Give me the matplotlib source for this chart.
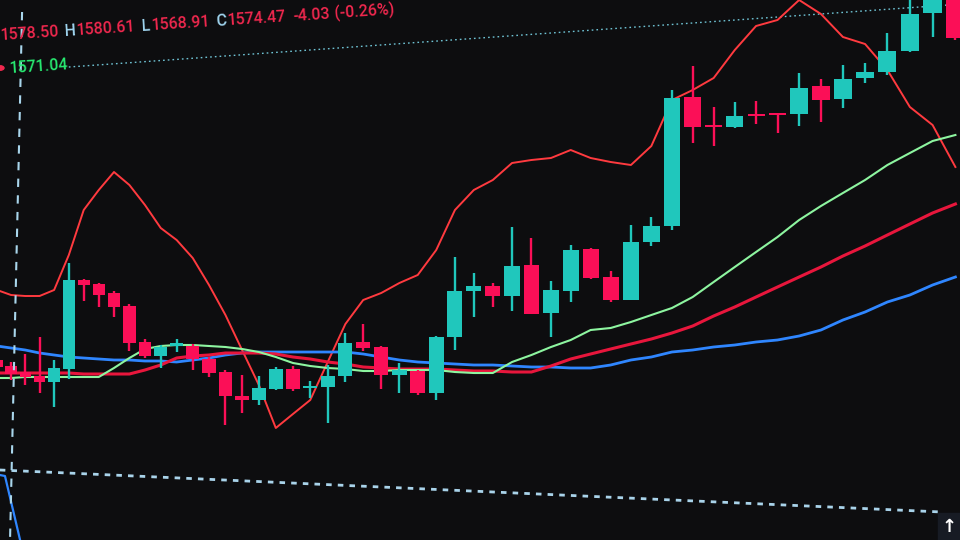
import numpy as np
import matplotlib
matplotlib.use("Agg")
import matplotlib.pyplot as plt
from matplotlib.patches import Rectangle

# ---- candle data (one entry per bar, index 0..52) ----
opens = [1564.0, 1563.4, 1562.8, 1562.4, 1561.8, 1563.1, 1572.0, 1571.6, 1570.7, 1569.4,
         1565.8, 1564.4, 1565.4, 1565.4, 1564.1, 1562.8, 1560.4, 1560.0, 1561.1, 1563.1,
         1561.2, 1561.3, 1562.4, 1565.8, 1565.3, 1562.5, 1562.9, 1560.7, 1566.3, 1570.9,
         1571.4, 1570.4, 1573.5, 1568.7, 1570.9, 1575.1, 1572.3, 1570.0, 1575.8, 1577.4,
         1590.3, 1587.5, 1587.3, 1588.6, 1588.7, 1588.6, 1591.4, 1590.1, 1592.2, 1592.8,
         1594.9, 1598.7, 1601.0]
highs = [1564.5, 1563.8, 1564.6, 1566.3, 1564.0, 1573.7, 1572.1, 1571.7, 1570.9, 1569.6,
         1566.1, 1565.5, 1566.1, 1565.6, 1564.3, 1563.0, 1562.5, 1562.4, 1563.3, 1563.4,
         1561.9, 1563.5, 1566.7, 1567.6, 1565.4, 1563.7, 1563.0, 1566.4, 1574.3, 1572.7,
         1571.7, 1577.3, 1576.2, 1571.9, 1575.5, 1575.2, 1572.9, 1577.5, 1578.3, 1591.0,
         1593.4, 1589.3, 1589.8, 1589.9, 1588.7, 1592.7, 1592.1, 1593.5, 1593.7, 1596.7,
         1600.5, 1602.0, 1602.0]
lows = [1562.8, 1562.0, 1561.5, 1560.7, 1559.3, 1562.1, 1569.9, 1569.3, 1568.3, 1564.9,
        1564.2, 1563.2, 1564.8, 1563.0, 1562.3, 1557.5, 1558.7, 1559.5, 1561.0, 1560.9,
        1560.2, 1557.7, 1561.8, 1564.9, 1561.1, 1560.7, 1560.5, 1560.0, 1565.0, 1568.3,
        1569.3, 1568.9, 1568.6, 1566.3, 1569.8, 1572.1, 1569.8, 1570.0, 1575.4, 1577.0,
        1585.7, 1585.4, 1587.2, 1587.6, 1586.7, 1587.4, 1587.8, 1589.2, 1591.7, 1592.5,
        1594.8, 1596.3, 1596.0]
closes = [1563.3, 1562.6, 1562.3, 1561.8, 1563.2, 1572.0, 1571.5, 1570.5, 1569.3, 1565.7,
          1564.4, 1565.3, 1565.7, 1564.1, 1562.7, 1560.4, 1560.0, 1561.2, 1563.1, 1561.1,
          1561.4, 1562.4, 1565.7, 1565.2, 1562.5, 1563.0, 1560.7, 1566.3, 1570.9, 1571.4,
          1570.4, 1573.4, 1568.6, 1571.0, 1575.0, 1572.2, 1570.0, 1575.8, 1577.4, 1590.2,
          1587.3, 1587.3, 1588.4, 1588.4, 1588.5, 1591.2, 1590.0, 1592.1, 1592.8, 1594.9,
          1598.6, 1601.0, 1596.2]

# ---- indicator lines ----
band_upper = [1571.0, 1570.5, 1570.4, 1570.4, 1571.0, 1574.5, 1579.0, 1581.0, 1582.8, 1581.5,
              1579.5, 1577.2, 1576.0, 1574.2, 1571.5, 1568.5, 1565.0, 1561.5, 1557.2, 1558.6,
              1560.0, 1563.8, 1567.6, 1570.0, 1570.7, 1571.7, 1572.5, 1575.0, 1579.0, 1581.0,
              1582.0, 1583.7, 1584.0, 1584.2, 1585.0, 1584.2, 1583.8, 1583.5, 1585.4, 1590.0,
              1591.0, 1592.2, 1595.0, 1597.4, 1598.0, 1600.0, 1598.6, 1596.3, 1595.6, 1593.0,
              1589.3, 1587.5, 1583.3]
ma_blue = [1565.4, 1565.2, 1565.0, 1564.7, 1564.5, 1564.3, 1564.2, 1564.1, 1564.0, 1564.0,
           1563.9, 1563.9, 1563.8, 1564.0, 1564.2, 1564.5, 1564.7, 1564.8, 1564.8, 1564.8,
           1564.8, 1564.8, 1564.8, 1564.6, 1564.3, 1564.0, 1563.8, 1563.7, 1563.6, 1563.5,
           1563.5, 1563.4, 1563.3, 1563.3, 1563.2, 1563.2, 1563.5, 1564.0, 1564.3, 1564.8,
           1565.0, 1565.3, 1565.5, 1565.8, 1566.0, 1566.4, 1567.0, 1568.0, 1568.8, 1569.8,
           1570.5, 1571.5, 1572.3]
ma_green = [1562.2, 1562.2, 1562.3, 1562.3, 1562.3, 1562.3, 1562.3, 1562.3, 1563.2, 1564.2,
            1565.1, 1565.4, 1565.5, 1565.5, 1565.4, 1565.3, 1565.1, 1564.8, 1564.3, 1563.7,
            1563.4, 1563.2, 1563.1, 1562.9, 1562.9, 1563.0, 1563.0, 1563.0, 1562.8, 1562.7,
            1562.7, 1563.8, 1564.5, 1565.3, 1566.0, 1567.0, 1567.2, 1567.8, 1568.5, 1569.2,
            1570.3, 1571.8, 1573.3, 1574.8, 1576.3, 1578.0, 1579.4, 1580.7, 1582.0, 1583.5,
            1584.7, 1585.9, 1586.5]
ma_red = [1562.7, 1562.7, 1562.7, 1562.7, 1562.7, 1562.7, 1562.6, 1562.6, 1562.6, 1562.6,
          1563.0, 1563.5, 1564.2, 1564.4, 1564.5, 1564.7, 1564.7, 1564.7, 1564.6, 1564.3,
          1564.1, 1563.8, 1563.6, 1563.3, 1563.2, 1563.1, 1563.1, 1563.1, 1563.0, 1562.9,
          1562.9, 1562.8, 1562.8, 1563.4, 1564.1, 1564.6, 1565.1, 1565.6, 1566.1, 1566.7,
          1567.4, 1568.4, 1569.3, 1570.3, 1571.3, 1572.3, 1573.3, 1574.4, 1575.4, 1576.5,
          1577.6, 1578.7, 1579.6]

# reference lines (screen is photographed at an angle, so they tilt)
last_price_x = [5.0, 52.3]
last_price_y = [1593.3, 1599.6]
lower_dash_x = [0.2, 51.4]
lower_dash_y = [1553.0, 1548.8]
cross_x = [1.78, 0.93]
cross_y = [1598.8, 1546.0]
sub_blue_x = [0.2, 0.57, 1.64]
sub_blue_y = [1552.5, 1552.4, 1546.0]

# OHLC header pieces: (text, colour, gap in px after it)
header = [("1578.50", "#f0284e", 5), ("H", "#9fd4ee", 1), ("1580.61", "#f0284e", 6),
          ("L", "#9fd4ee", 1), ("1568.91", "#f0284e", 6), ("C", "#9fd4ee", 1),
          ("1574.47", "#f0284e", 7), ("-4.03", "#f0284e", 5), ("(-0.26%)", "#f0284e", 0)]
last_price_label = "1571.04"

BG = "#0d0d0f"
UP = "#20c7bc"
DOWN = "#fb0f57"

# perspective-like spacing of bars (bars get wider to the right)
A, B, C = -3.0, 13.93, 0.0865

def fwd(i):
    i = np.asarray(i, dtype=float)
    return A + B * i + C * i * i

def inv(p):
    p = np.asarray(p, dtype=float)
    d = np.clip(B * B + 4 * C * (p - A), 0, None)
    return (-B + np.sqrt(d)) / (2 * C)


fig = plt.figure(figsize=(9.6, 5.4), dpi=100, facecolor=BG)
ax = fig.add_axes([0, 0, 1, 1], facecolor=BG)
ax.set_xscale("function", functions=(fwd, inv))
ax.set_xlim(0.215, 52.2)
ax.set_ylim(1546, 1600)
ax.axis("off")

idx = np.arange(len(opens))
o = np.array(opens)
c = np.array(closes)
up = c >= o
cols = np.where(up, UP, DOWN)

# indicators
ax.plot(idx, band_upper, color="#ff3a3f", lw=1.4, zorder=2)
ax.plot(idx, ma_blue, color="#2f86ff", lw=2.0, zorder=2)
ax.plot(idx, ma_red, color="#e8163c", lw=2.2, zorder=2)
ax.plot(idx, ma_green, color="#8df5a0", lw=1.5, zorder=2)

# candles
ax.vlines(idx, lows, highs, colors=cols, lw=1.7, zorder=3)
body = np.maximum(np.abs(c - o), 0.22)
ax.bar(idx, body, bottom=np.minimum(o, c), width=0.8, color=cols, zorder=4)

# reference lines
ax.plot(last_price_x, last_price_y, color="#6fc3d4", lw=1.0, ls=(0, (1.2, 2.2)), zorder=1)
ax.plot(lower_dash_x, lower_dash_y, color="#a9d3ea", lw=2.0, ls=(0, (2, 2.2)), zorder=1)
ax.plot(cross_x, cross_y, color="#a9d6ec", lw=1.5, ls=(0, (4, 4)), zorder=5)
ax.plot(sub_blue_x, sub_blue_y, color="#2f86ff", lw=1.6, zorder=1)

# header (OHLC) text, slightly tilted like the photographed screen
font = ["Roboto", "DejaVu Sans"]
fsize = 11.5
angle = 3.7
renderer = fig.canvas.get_renderer()
cos_a, sin_a = np.cos(np.radians(angle)), np.sin(np.radians(angle))
px, py = 1.0, 40.0   # start of the baseline in pixels from top-left
for txt, col, gap in header:
    t = fig.text(px / 960, 1 - py / 540, txt, color=col, fontsize=fsize, family=font,
                 fontweight="medium", ha="left", va="baseline")
    w = t.get_window_extent(renderer).width
    t.set_rotation(angle)
    t.set_rotation_mode("anchor")
    px += (w + gap) * cos_a
    py -= (w + gap) * sin_a

fig.text(10 / 960, 1 - 73 / 540, last_price_label, color="#27e870", fontsize=fsize,
         family=font, fontweight="medium", rotation=angle, rotation_mode="anchor",
         ha="left", va="baseline")
fig.patches.append(plt.Circle((0, 1 - 68 / 540), 4 / 960, color="#f0284e",
                              transform=fig.transFigure, figure=fig))

# scroll-to-top button
fig.patches.append(Rectangle((938 / 960, 0), 22 / 960, 27 / 540, color="#171b24",
                             transform=fig.transFigure, figure=fig))
fig.text(949 / 960, 13 / 540, "↑", color="white", fontsize=13, ha="center", va="center",
         fontweight="bold")

fig.savefig("out.png", dpi=100, facecolor=BG)
